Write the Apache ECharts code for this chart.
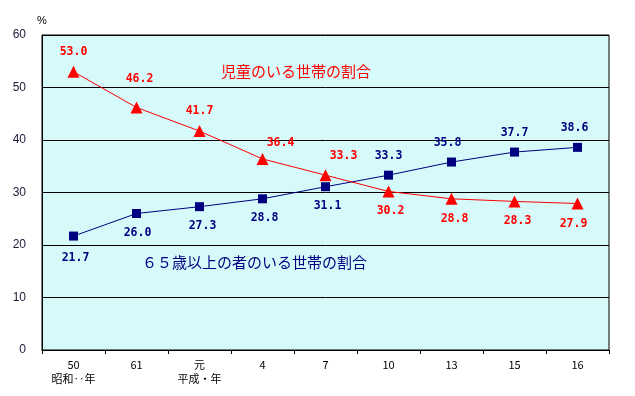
<!DOCTYPE html>
<html>
<head>
<meta charset="utf-8">
<script src="https://cdn.jsdelivr.net/npm/echarts@6/dist/echarts.min.js"></script>
<style>
  html, body { margin: 0; padding: 0; background: #fff; }
  #main { width: 635px; height: 396px; }
</style>
</head>
<body>
<div id="main"></div>
<script>
// 年次（昭和50年〜平成16年）
const years = ['50\n昭和‥年', '61', '元\n平成・年', '4', '7', '10', '13', '15', '16'];
// 児童のいる世帯の割合
const childHouseholds = [53.0, 46.2, 41.7, 36.4, 33.3, 30.2, 28.8, 28.3, 27.9];
// ６５歳以上の者のいる世帯の割合
const elderHouseholds = [21.7, 26.0, 27.3, 28.8, 31.1, 33.3, 35.8, 37.7, 38.6];
const yTicks = [0, 10, 20, 30, 40, 50, 60];

const labelFont = {
    fontFamily: 'DejaVu Sans Mono',
    fontWeight: 'bold',
    fontSize: 11.5
};

// ラベルの位置（上／下）
const redPlace = ['top', 'top', 'top', 'top', 'top', 'bottom', 'bottom', 'bottom', 'bottom'];
const bluePlace = ['bottom', 'bottom', 'bottom', 'bottom', 'bottom', 'top', 'top', 'top', 'top'];
const redShift = [[0, 0], [3, -8], [0, 0], [18, 4], [18, 1], [2, 0], [3, 0], [3, 0], [-4, 0]];
const blueShift = [[2, 2], [1, 0], [3, 0], [2, 0], [2, 0], [0, 0], [-4, 0], [0, 0], [-3, 0]];

const myChart = echarts.init(document.getElementById('main'));

const option = {
    animation: false,
    grid: {
        left: 42,
        right: 26,
        top: 35,
        bottom: 46,
        show: true,
        backgroundColor: '#d6fafa',
        borderColor: '#000',
        borderWidth: 1
    },
    xAxis: {
        type: 'category',
        data: years,
        boundaryGap: true,
        axisLine: { lineStyle: { color: '#000', width: 1 } },
        axisTick: { show: true, length: 4, inside: false, lineStyle: { color: '#000' } },
        axisLabel: {
            color: '#000',
            fontSize: 11,
            lineHeight: 14,
            margin: 8,
            fontFamily: 'Noto Sans CJK JP'
        }
    },
    yAxis: {
        type: 'value',
        min: yTicks[0],
        max: yTicks[yTicks.length - 1],
        interval: 10,
        name: '%',
        nameLocation: 'end',
        nameGap: 9,
        nameTextStyle: { color: '#000', fontSize: 11, align: 'center' },
        axisLine: { show: true, lineStyle: { color: '#000' } },
        axisTick: { show: false },
        splitLine: { show: true, lineStyle: { color: '#000', width: 1 } },
        axisLabel: {
            color: '#1a1a3a',
            fontSize: 12,
            margin: 16,
            fontFamily: 'Liberation Sans'
        }
    },
    series: [
        {
            name: '児童のいる世帯の割合',
            type: 'line',
            data: childHouseholds.map((v, i) => ({
                value: v,
                label: { position: redPlace[i], offset: redShift[i] }
            })),
            symbol: 'triangle',
            symbolSize: 12,
            itemStyle: { color: '#ff0000' },
            lineStyle: { color: '#ff0000', width: 1 },
            label: {
                show: true,
                distance: 8,
                color: '#ff0000',
                formatter: p => p.value.toFixed(1),
                ...labelFont
            },
            z: 3
        },
        {
            name: '６５歳以上の者のいる世帯の割合',
            type: 'line',
            data: elderHouseholds.map((v, i) => ({
                value: v,
                label: { position: bluePlace[i], offset: blueShift[i] }
            })),
            symbol: 'rect',
            symbolSize: 9,
            itemStyle: { color: '#000080' },
            lineStyle: { color: '#000080', width: 1 },
            label: {
                show: true,
                distance: 9,
                color: '#000080',
                formatter: p => p.value.toFixed(1),
                ...labelFont
            },
            z: 2
        }
    ],
    graphic: [
        {
            type: 'text',
            left: 221,
            top: 64,
            style: {
                text: '児童のいる世帯の割合',
                fill: '#ff0000',
                fontSize: 15,
                fontFamily: 'Noto Sans CJK JP'
            }
        },
        {
            type: 'text',
            left: 142,
            top: 255,
            style: {
                text: '６５歳以上の者のいる世帯の割合',
                fill: '#000080',
                fontSize: 15,
                fontFamily: 'Noto Sans CJK JP'
            }
        }
    ]
};

myChart.setOption(option);
</script>
</body>
</html>
